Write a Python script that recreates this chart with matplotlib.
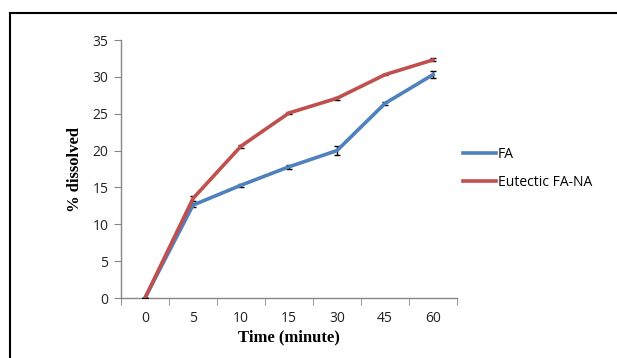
import matplotlib
matplotlib.use("Agg")
import matplotlib.pyplot as plt
from matplotlib.lines import Line2D
import numpy as np

# datos
tiempos = ["0", "5", "10", "15", "30", "45", "60"]
fa = [0, 12.6, 15.3, 17.8, 20.0, 26.4, 30.3]
fa_err = [0, 0.3, 0.2, 0.3, 0.6, 0.2, 0.5]
eut = [0, 13.5, 20.6, 25.1, 27.1, 30.3, 32.3]
eut_err = [0, 0.4, 0.2, 0.1, 0.2, 0.1, 0.2]

azul = "#4F81BD"
rojo = "#C0504D"
gris = "#868686"
fuente = "Open Sans"

fig = plt.figure(figsize=(6.17, 3.58), dpi=100)
ax = fig.add_axes([121 / 617, 1 - 298 / 358, 336 / 617, 258 / 358])

x = np.arange(len(tiempos))
ax.errorbar(x, fa, yerr=fa_err, color=azul, lw=2.6, ecolor="black",
            elinewidth=1, capsize=2.5, capthick=1, label="FA", zorder=3)
ax.errorbar(x, eut, yerr=eut_err, color=rojo, lw=2.6, ecolor="black",
            elinewidth=1, capsize=2.5, capthick=1, label="Eutectic FA-NA", zorder=3)

ax.set_xlim(-0.5, len(tiempos) - 0.5)
ax.set_ylim(0, 35)
ax.set_yticks(range(0, 36, 5))
ax.set_xticks(x)
ax.set_xticklabels(tiempos)
ax.set_xticks(np.arange(-0.5, len(tiempos), 1), minor=True)
ax.tick_params(axis="x", which="major", length=0, pad=9)
ax.tick_params(axis="x", which="minor", length=5, color=gris, direction="out")
ax.tick_params(axis="y", length=5, color=gris, direction="out", pad=4)
for t in ax.get_xticklabels() + ax.get_yticklabels():
    t.set_fontfamily(fuente)
    t.set_fontsize(10)
    t.set_color("#222222")

for lado in ["top", "right"]:
    ax.spines[lado].set_visible(False)
for lado in ["left", "bottom"]:
    ax.spines[lado].set_color(gris)
    ax.spines[lado].set_linewidth(1)

ax.set_xlabel("Time (minute)", fontfamily="Liberation Serif", fontweight="bold",
              fontsize=12, labelpad=3)
ax.set_ylabel("% dissolved", fontfamily="Liberation Serif", fontweight="bold",
              fontsize=12, labelpad=7)

handles = [Line2D([], [], color=azul, lw=2.6), Line2D([], [], color=rojo, lw=2.6)]
leg = fig.legend(handles, ["FA", "Eutectic FA-NA"], loc="upper left",
                 bbox_to_anchor=(450 / 617, 1 - 134 / 358), frameon=False,
                 prop={"family": fuente, "size": 10}, handlelength=2.4,
                 handletextpad=0.15, labelspacing=0.98)

# marco exterior
fig.add_artist(Line2D([9.5 / 617, 9.5 / 617], [1 - 12.5 / 358, -0.05],
                      transform=fig.transFigure, color="black", lw=1.5))
fig.add_artist(Line2D([9.5 / 617, 1.05], [1 - 12.5 / 358, 1 - 12.5 / 358],
                      transform=fig.transFigure, color="black", lw=1.5))

fig.savefig("out.png", dpi=100)
